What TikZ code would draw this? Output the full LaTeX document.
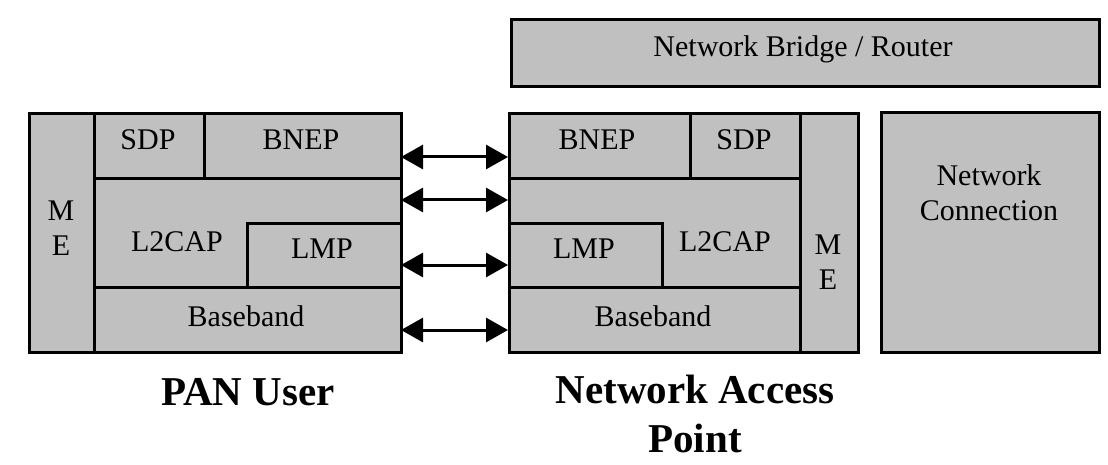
\documentclass[tikz,border=0pt]{standalone}
\usepackage{fontspec}
\setmainfont{Liberation Serif}
\usetikzlibrary{arrows.meta}
\definecolor{boxgray}{RGB}{192,192,192}
\tikzset{
  box/.style={draw=black, fill=boxgray, line width=3pt, inner sep=0pt},
  txt/.style={font=\fontsize{30}{35}\selectfont, inner sep=0pt, align=center},
  title/.style={font=\fontsize{41}{49}\selectfont\bfseries, inner sep=0pt, align=center},
  biarrow/.style={line width=3pt, {Triangle[length=22pt 0,width=24pt 0]}-{Triangle[length=22pt 0,width=24pt 0]}}
}
\newcommand{\bx}[5]{\node[box, anchor=north west, minimum width=#4-#2, minimum height=#5-#3] (#1) at (#2,#3) {};}
\begin{document}
\begin{tikzpicture}[x=1pt,y=-1pt]
\useasboundingbox (0,0) rectangle (1108,465);
% left stack
\bx{meL}{28}{112}{93}{351}
\bx{sdpL}{93}{112}{203}{177}
\bx{bnepL}{203}{112}{400}{177}
\bx{ltcapL}{93}{177}{400}{286}
\bx{lmpL}{246}{222}{400}{286}
\bx{bbL}{93}{286}{400}{351}
% right stack
\bx{bnepR}{508}{112}{689}{177}
\bx{sdpR}{689}{112}{799}{177}
\bx{ltcapR}{508}{177}{799}{286}
\bx{lmpR}{508}{222}{661}{286}
\bx{bbR}{508}{286}{799}{351}
\bx{meR}{799}{112}{857}{351}
% others
\bx{bridge}{510}{18}{1098}{85}
\bx{netc}{880}{111}{1098}{351}
% texts
\node[txt] (tsdpL) at (148,140) {SDP};
\node[txt] (tbnepL) at (301,140) {BNEP};
\node[txt] (tmeL) at (61,228) {M\\E};
\node[txt] (tl2L) at (177,242) {L2CAP};
\node[txt] (tlmpL) at (322,249) {LMP};
\node[txt] (tbbL) at (246,316) {Baseband};
\node[txt] (tbnepR) at (597,140) {BNEP};
\node[txt] (tsdpR) at (744,140) {SDP};
\node[txt] (tlmpR) at (584,249) {LMP};
\node[txt] (tl2R) at (725,242) {L2CAP};
\node[txt] (tmeR) at (828,262) {M\\E};
\node[txt] (tbbR) at (653,316) {Baseband};
\node[txt] (tbridge) at (803,49) {Network Bridge / Router};
\node[txt] (tnetc) at (989,193) {Network\\Connection};
\node[title] (tpan) at (248,392) {PAN User};
\node[title] (tnap) at (695,414) {Network Access\\Point};
% arrows
\coordinate (a1l) at (401,157); \coordinate (a1r) at (508,157);
\coordinate (a2l) at (401,200); \coordinate (a2r) at (508,200);
\coordinate (a3l) at (401,265); \coordinate (a3r) at (508,265);
\coordinate (a4l) at (401,330); \coordinate (a4r) at (508,330);
\draw[biarrow] (a1l) -- (a1r);
\draw[biarrow] (a2l) -- (a2r);
\draw[biarrow] (a3l) -- (a3r);
\draw[biarrow] (a4l) -- (a4r);
\end{tikzpicture}
\end{document}
